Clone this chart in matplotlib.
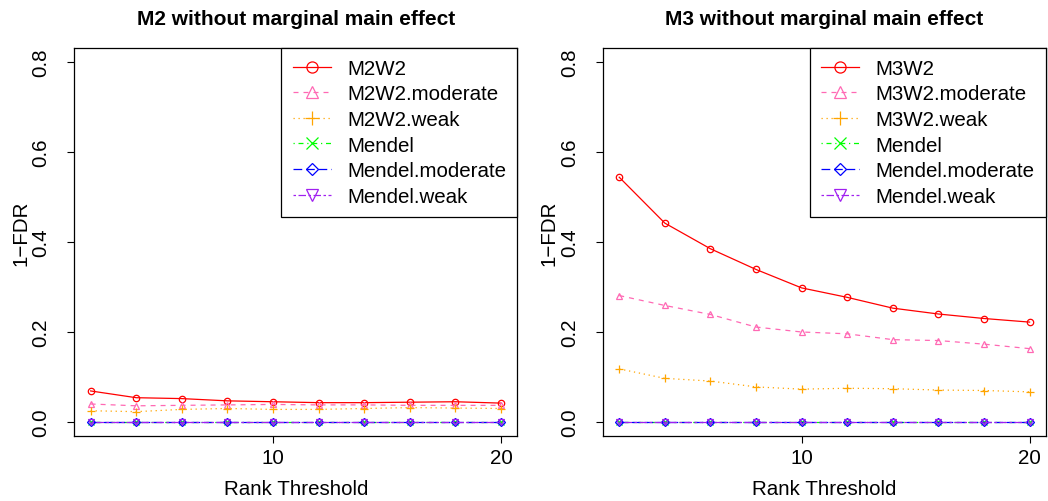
import matplotlib
matplotlib.use("Agg")
import matplotlib.pyplot as plt
from matplotlib.lines import Line2D

plt.rcParams['font.family'] = ['Liberation Sans', 'DejaVu Sans']

rank = [2, 4, 6, 8, 10, 12, 14, 16, 18, 20]

# Left panel: M2
m2_labels = ["M2W2", "M2W2.moderate", "M2W2.weak", "Mendel", "Mendel.moderate", "Mendel.weak"]
m2w2 = [0.069, 0.054, 0.052, 0.047, 0.045, 0.043, 0.043, 0.044, 0.045, 0.042]
m2w2_moderate = [0.040, 0.036, 0.037, 0.038, 0.039, 0.038, 0.038, 0.037, 0.037, 0.037]
m2w2_weak = [0.025, 0.023, 0.028, 0.030, 0.028, 0.028, 0.030, 0.032, 0.031, 0.030]
m2_mendel = [0.0] * 10
m2_mendel_moderate = [0.0] * 10
m2_mendel_weak = [0.0] * 10

# Right panel: M3
m3_labels = ["M3W2", "M3W2.moderate", "M3W2.weak", "Mendel", "Mendel.moderate", "Mendel.weak"]
m3w2 = [0.544, 0.442, 0.385, 0.339, 0.298, 0.277, 0.253, 0.240, 0.230, 0.222]
m3w2_moderate = [0.281, 0.259, 0.239, 0.211, 0.200, 0.196, 0.183, 0.181, 0.173, 0.163]
m3w2_weak = [0.118, 0.097, 0.091, 0.078, 0.073, 0.075, 0.074, 0.071, 0.070, 0.067]
m3_mendel = [0.0] * 10
m3_mendel_moderate = [0.0] * 10
m3_mendel_weak = [0.0] * 10

titles = ["M2 without marginal main effect", "M3 without marginal main effect"]
xticks = [10, 20]
yticks = [0.0, 0.2, 0.4, 0.6, 0.8]
ytick_labels = ["0.0", "0.2", "0.4", "0.6", "0.8"]

colors = ["#FF0000", "#FF69B4", "#FFA500", "#00FF00", "#0000FF", "#A020F0"]
markers = ["o", "^", "+", "x", "D", "v"]
linestyles = ["-", (0, (4, 4)), (0, (1, 3)), (0, (1, 3, 4, 3)), (0, (7, 3)), (0, (2, 2, 6, 2))]
msizes = [4.6, 4.6, 5.5, 4.6, 3.6, 4.6]
leg_msizes = [8.0, 9.0, 10.0, 8.0, 6.5, 9.0]

W, H = 1048, 502
fig = plt.figure(figsize=(W / 100, H / 100), dpi=100)

ax_top, ax_bot = 48.6, 437.4
panels = [
    (74.2, 517.4, [m2w2, m2w2_moderate, m2w2_weak, m2_mendel, m2_mendel_moderate, m2_mendel_weak], m2_labels),
    (602.8, 1046.0, [m3w2, m3w2_moderate, m3w2_weak, m3_mendel, m3_mendel_moderate, m3_mendel_weak], m3_labels),
]

FS = 14.8
for i, (l, r, series, labels) in enumerate(panels):
    ax = fig.add_axes([l / W, 1 - ax_bot / H, (r - l) / W, (ax_bot - ax_top) / H])
    for j, s in enumerate(series):
        ax.plot(rank, s, color=colors[j], linestyle=linestyles[j], marker=markers[j],
                markersize=msizes[j], markerfacecolor='none', markeredgecolor=colors[j],
                markeredgewidth=0.9, linewidth=0.9)
    ax.set_xlim(1.28, 20.72)
    ax.set_ylim(-0.032, 0.832)
    ax.set_xticks(xticks)
    ax.set_xticklabels([str(t) for t in xticks])
    ax.set_yticks(yticks)
    ax.set_yticklabels(ytick_labels)
    ax.tick_params(axis='both', direction='out', length=5, width=0.8, labelsize=FS, colors='black')
    ax.tick_params(axis='x', pad=3.5)
    ax.tick_params(axis='y', pad=12.0)
    for lab in ax.get_yticklabels():
        lab.set_rotation(90)
        lab.set_va('center')
    for sp in ax.spines.values():
        sp.set_linewidth(0.9)
        sp.set_color('black')
    ax.set_title(titles[i], fontsize=15, fontweight='bold', pad=17)
    ax.set_xlabel("Rank Threshold", fontsize=FS, va='baseline')
    ax.xaxis.set_label_coords(0.5, -(495 - ax_bot) / (ax_bot - ax_top))
    ax.set_ylabel("1\u2212FDR", fontsize=FS, va='baseline')
    ax.yaxis.set_label_coords(-48.0 / (r - l), 0.525)

    handles = [Line2D([], [], color=colors[j], linestyle=linestyles[j], marker=markers[j],
                      markersize=leg_msizes[j], markerfacecolor='none', markeredgecolor=colors[j],
                      markeredgewidth=0.9, linewidth=0.9) for j in range(6)]
    leg = ax.legend(handles, labels, loc='upper right', fontsize=FS, frameon=True, fancybox=False,
                    borderaxespad=0, borderpad=0.55, labelspacing=0.32, handlelength=1.85,
                    handletextpad=0.8, edgecolor='black', framealpha=1)
    leg.get_frame().set_linewidth(0.9)

fig.savefig("out.png", dpi=100)
